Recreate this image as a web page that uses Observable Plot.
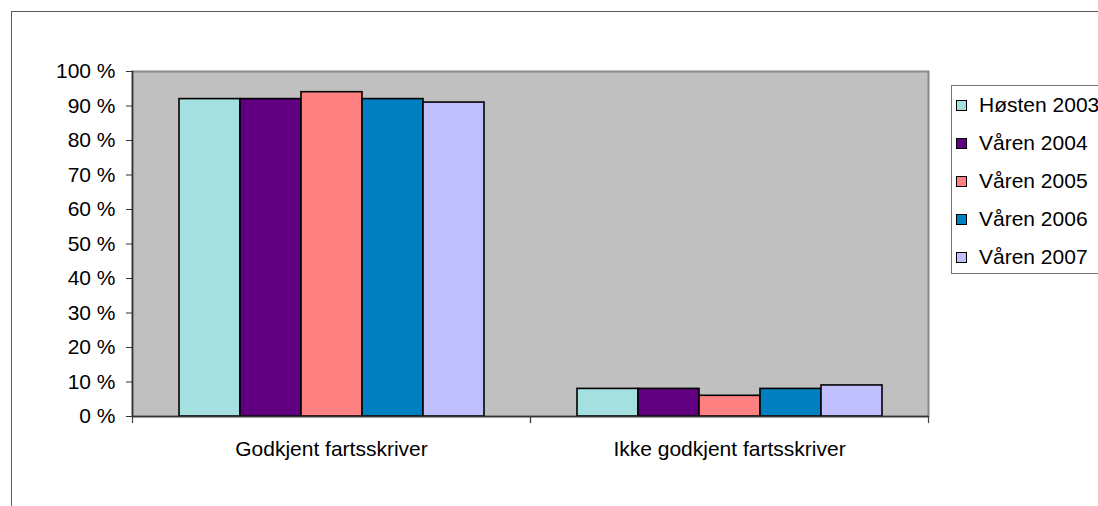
<!DOCTYPE html>
<html>
<head>
<meta charset="utf-8">
<script src="https://cdn.jsdelivr.net/npm/d3@7"></script>
<script src="https://cdn.jsdelivr.net/npm/@observablehq/plot@0.6"></script>
<style>
  html, body { margin: 0; padding: 0; background: #fff; overflow: hidden; }
  body { width: 1098px; height: 506px; font-family: "Liberation Sans", Arial, sans-serif; }
  #wrap { position: relative; width: 1098px; height: 506px; }
  #border { position: absolute; left: 11px; top: 11px; right: -10px; bottom: -10px;
            border-top: 1.5px solid #5a5a5a; border-left: 1.5px solid #5a5a5a; }
  #chart { position: absolute; left: 0; top: 0; }
  #legend { position: absolute; left: 951px; top: 85px; width: 170px; height: 189px;
            border: 1px solid #777; background: #fff; box-sizing: border-box; }
  .item { position: absolute; left: 4px; height: 24px; display: flex; align-items: center;
          font-size: 21px; color: #000; white-space: nowrap; }
  .sw { width: 9px; height: 9px; border: 1.6px solid #000; margin-right: 12px; }
</style>
</head>
<body>
<div id="wrap">
  <div id="border"></div>
  <div id="chart"></div>
  <div id="legend"></div>
</div>
<script>
// Share of tachographs approved / not approved per survey round
const categories = ["Godkjent fartsskriver", "Ikke godkjent fartsskriver"];
const rounds = ["Høsten 2003", "Våren 2004", "Våren 2005", "Våren 2006", "Våren 2007"];
const approved = [92, 92, 94, 92, 91];
const notApproved = [8, 8, 6, 8, 9];
const roundColors = ["#a4e0e0", "#600080", "#ff8080", "#0080c0", "#c0c0ff"];
const yTicks = [0, 10, 20, 30, 40, 50, 60, 70, 80, 90, 100];

const rows = [];
rounds.forEach((r, i) => {
  rows.push({category: categories[0], round: r, value: approved[i]});
  rows.push({category: categories[1], round: r, value: notApproved[i]});
});

const chart = Plot.plot({
  width: 1098,
  height: 506,
  marginLeft: 131,
  marginRight: 170,
  marginTop: 71,
  marginBottom: 90,
  style: {fontFamily: "'Liberation Sans', Arial, sans-serif", fontSize: "21px", color: "#000", background: "transparent"},
  fx: {domain: categories, padding: 0, label: null},
  x: {domain: rounds, paddingInner: 0, paddingOuter: 0.75, axis: null},
  y: {domain: [0, 100], label: null},
  color: {domain: rounds, range: roundColors},
  marks: [
    // grey plotting area
    Plot.frame({fill: "#c0c0c0", stroke: "#888", strokeWidth: 2, facet: "super"}),
    Plot.barY(rows, {fx: "category", x: "round", y: "value", fill: "round",
                     stroke: "#000", strokeWidth: 1.6, inset: 0}),
    Plot.ruleY([0], {stroke: "#333", strokeWidth: 1.5}),
    Plot.frame({anchor: "left", stroke: "#333", strokeWidth: 1.5, facet: "super"}),
    // category boundary ticks below the baseline
    Plot.frame({anchor: "left", stroke: "#444", strokeWidth: 1.2, insetTop: 345, insetBottom: -6}),
    Plot.frame({anchor: "right", stroke: "#444", strokeWidth: 1.2, insetTop: 345, insetBottom: -6}),
    Plot.axisY({ticks: yTicks, tickFormat: d => d + " %", tickSize: 6, tickPadding: 11,
                stroke: "#333", fontSize: 21, label: null}),
    Plot.axisFx({anchor: "bottom", tickSize: 0, tickPadding: 25, fontSize: 21, label: null})
  ]
});
document.getElementById("chart").appendChild(chart);

// vertical legend
const legend = document.getElementById("legend");
rounds.forEach((r, i) => {
  const item = document.createElement("div");
  item.className = "item";
  item.style.top = (7 + i * 38) + "px";
  const sw = document.createElement("span");
  sw.className = "sw";
  sw.style.background = roundColors[i];
  item.appendChild(sw);
  item.appendChild(document.createTextNode(r));
  legend.appendChild(item);
});
</script>
</body>
</html>
